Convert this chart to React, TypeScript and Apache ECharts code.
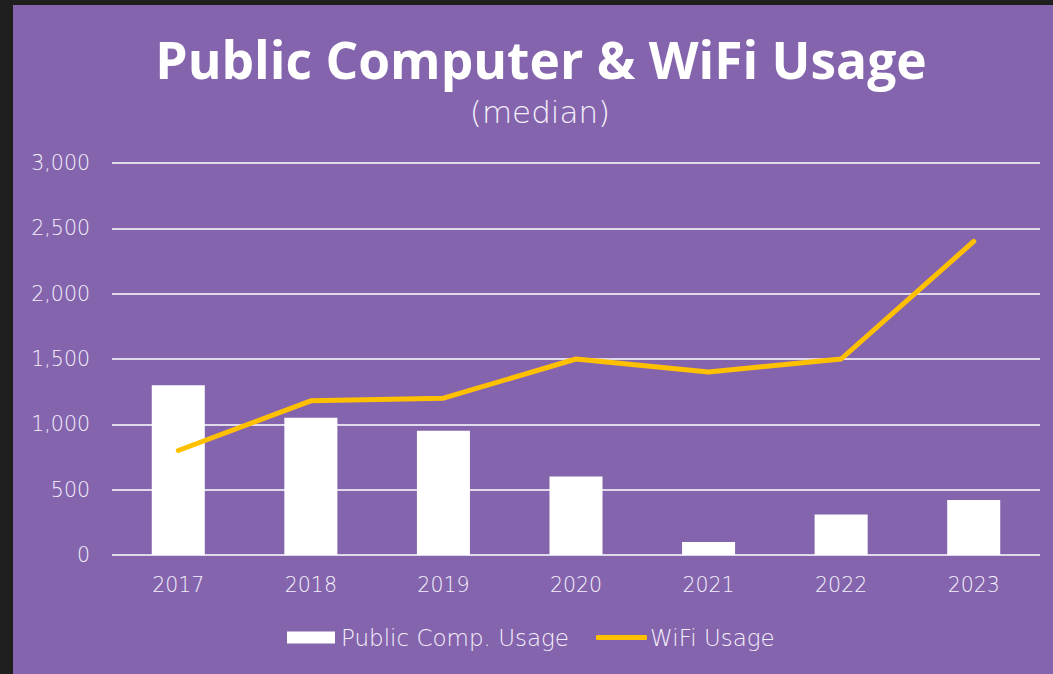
import React, { useEffect, useRef } from "react";
import * as echarts from "echarts";

const years = ["2017", "2018", "2019", "2020", "2021", "2022", "2023"];
const publicCompUsage = [1300, 1050, 950, 600, 100, 310, 420];
const wifiUsage = [800, 1180, 1200, 1500, 1400, 1500, 2400];
const yTicks = { min: 0, max: 3000, interval: 500 };

const TITLE_FONT = "'Open Sans', 'DejaVu Sans', sans-serif";
const FONT = "'DejaVu Sans', 'Open Sans', sans-serif";
const LABEL = "#f4f0fa";

export default function App() {
  const ref = useRef<HTMLDivElement>(null);
  useEffect(() => {
    document.body.style.margin = "0";
    const chart = echarts.init(ref.current!, null, { renderer: "svg" });
    chart.setOption({
      animation: false,
      backgroundColor: "#8564ae",
      title: [
        {
          text: "Public Computer & WiFi Usage",
          left: 523,
          top: 23,
          textAlign: "center",
          textStyle: { color: "#ffffff", fontSize: 51.5, fontWeight: "bold", fontFamily: TITLE_FONT },
        },
        {
          text: "(median)",
          left: 522,
          top: 86,
          textAlign: "center",
          textStyle: { color: LABEL, fontSize: 31, fontWeight: 200, fontFamily: FONT },
        },
      ],
      grid: { left: 99, right: 13, top: 158, bottom: 119, containLabel: false },
      legend: [
        {
          left: 269,
          top: 616,
          itemGap: 16,
          itemWidth: 48,
          itemHeight: 12,
          textStyle: { color: LABEL, fontSize: 23, fontWeight: 200, fontFamily: FONT, padding: [0, 0, 0, 1] },
          data: [{ name: "Public Comp. Usage", icon: "rect" }],
        },
        {
          left: 578,
          top: 616,
          itemWidth: 51,
          itemHeight: 5,
          textStyle: { color: LABEL, fontSize: 23, fontWeight: 200, fontFamily: FONT, padding: [0, 0, 0, -2] },
          data: [{ name: "WiFi Usage", icon: "roundRect", itemStyle: { color: "#ffc000" } }],
        },
      ],
      xAxis: {
        type: "category",
        data: years,
        axisLine: { show: false },
        axisTick: { show: false },
        axisLabel: { color: LABEL, fontSize: 20.5, fontWeight: 200, margin: 19, fontFamily: FONT },
      },
      yAxis: {
        type: "value",
        min: yTicks.min,
        max: yTicks.max,
        interval: yTicks.interval,
        axisLine: { show: false },
        axisTick: { show: false },
        axisLabel: {
          color: LABEL,
          fontSize: 20.5,
          fontWeight: 200,
          margin: 22,
          fontFamily: FONT,
          formatter: (v: number) => v.toLocaleString("en-US"),
        },
        splitLine: { lineStyle: { color: "#ffffff", width: 1.5 } },
      },
      series: [
        {
          name: "Public Comp. Usage",
          type: "bar",
          data: publicCompUsage,
          barWidth: "40%",
          itemStyle: { color: "#ffffff" },
        },
        {
          name: "WiFi Usage",
          type: "line",
          data: wifiUsage,
          symbol: "none",
          lineStyle: { color: "#ffc000", width: 5, cap: "round", join: "round" },
          itemStyle: { color: "#ffc000" },
        },
      ],
    });
    return () => chart.dispose();
  }, []);
  return (
    <div style={{ position: "relative", width: 1053, height: 674, background: "#1f1f1f" }}>
      <div
        ref={ref}
        style={{ position: "absolute", left: 13, top: 5, width: 1040, height: 669 }}
      />
    </div>
  );
}
